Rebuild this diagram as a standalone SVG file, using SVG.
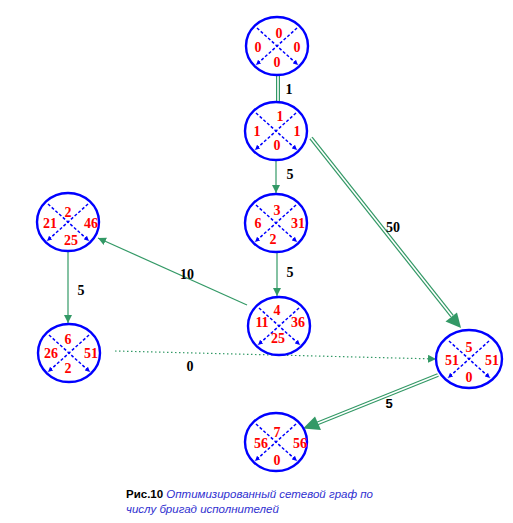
<svg xmlns="http://www.w3.org/2000/svg" xmlns:xlink="http://www.w3.org/1999/xlink" width="513" height="523" viewBox="0 0 513 523">
<style>
.c{fill:#fff;stroke:#0000ff;stroke-width:2.4}
.x{stroke:#0000ff;stroke-width:1.5;stroke-dasharray:3 2;fill:none}
.n{font-family:"Liberation Serif",serif;font-weight:bold;font-size:14px;fill:#ff0000;text-anchor:middle}
.l{font-family:"Liberation Serif",serif;font-weight:bold;font-size:14px;fill:#000;text-anchor:middle}
.s{stroke:#339966;stroke-width:1.2;fill:none}
.dbo{stroke:#339966;stroke-width:4;fill:none}
.dbi{stroke:#fff;stroke-width:1.6;fill:none}
.cap{font-family:"Liberation Sans",sans-serif;font-size:11.5px}
</style>
<defs>
<marker id="ah" viewBox="0 0 10 10" refX="10" refY="5" markerWidth="8" markerHeight="8" markerUnits="userSpaceOnUse" orient="auto"><path d="M0,0L10,5L0,10z" fill="#339966"/></marker>
<marker id="xa" viewBox="0 0 10 10" refX="10" refY="5" markerWidth="5" markerHeight="5" markerUnits="userSpaceOnUse" orient="auto"><path d="M0,0L10,5L0,10z" fill="#0000ff"/></marker>
<g id="nd">
<ellipse class="c" cx="0" cy="0" rx="31" ry="29"/>
<line class="x" x1="-20" y1="-18" x2="21" y2="19" marker-end="url(#xa)"/>
<line class="x" x1="20" y1="-18" x2="-21" y2="19" marker-end="url(#xa)"/>
</g>
</defs>
<g id="connectors">
<line class="dbo" x1="278" y1="75" x2="278" y2="102"/>
<line class="dbi" x1="278" y1="75" x2="278" y2="102"/>
<line class="s" x1="276" y1="160" x2="276" y2="193" marker-end="url(#ah)"/>
<line class="s" x1="277" y1="252" x2="277" y2="296" marker-end="url(#ah)"/>
<line class="s" x1="247" y1="305" x2="98" y2="238" marker-end="url(#ah)"/>
<line class="s" x1="68" y1="251" x2="68" y2="323" marker-end="url(#ah)"/>
<line class="s" x1="115" y1="351" x2="436" y2="359" stroke-dasharray="1.5 2.5" marker-end="url(#ah)"/>
<line class="dbo" x1="311" y1="138" x2="452" y2="316"/>
<line class="dbi" x1="311" y1="138" x2="452" y2="316"/>
<path d="M461,328L445.5,321.5L457,312.5z" fill="#339966"/>
<line class="dbo" x1="438" y1="375" x2="316" y2="424"/>
<line class="dbi" x1="438" y1="375" x2="316" y2="424"/>
<path d="M303,428.5L315,416.5L321,430z" fill="#339966"/>
<text class="l" x="289" y="94">1</text>
<text class="l" x="290" y="179">5</text>
<text class="l" x="290" y="277">5</text>
<text class="l" x="187" y="279">10</text>
<text class="l" x="81" y="295">5</text>
<text class="l" x="393" y="232">50</text>
<text class="l" x="190" y="371">0</text>
<text class="l" x="389" y="408" style="font-family:'Liberation Sans',sans-serif;font-size:13px">5</text>
</g>
<g id="node0"><use xlink:href="#nd" x="277" y="46"/>
<text class="n" x="279" y="38">0</text><text class="n" x="258" y="52">0</text><text class="n" x="297" y="52">0</text><text class="n" x="277" y="67">0</text></g>
<g id="node1"><use xlink:href="#nd" x="276" y="131"/>
<text class="n" x="280" y="121">1</text><text class="n" x="257" y="136">1</text><text class="n" x="297" y="136">1</text><text class="n" x="277" y="150">0</text></g>
<g id="node2"><use xlink:href="#nd" x="68" y="222"/>
<text class="n" x="68" y="217">2</text><text class="n" x="50" y="228">21</text><text class="n" x="91" y="228">46</text><text class="n" x="71" y="245">25</text></g>
<g id="node3"><use xlink:href="#nd" x="276" y="223"/>
<text class="n" x="277" y="215">3</text><text class="n" x="258" y="228">6</text><text class="n" x="298" y="228">31</text><text class="n" x="273" y="244">2</text></g>
<g id="node4"><use xlink:href="#nd" x="279" y="326"/>
<text class="n" x="277" y="315">4</text><text class="n" x="262" y="327">11</text><text class="n" x="298" y="327">36</text><text class="n" x="278" y="343">25</text></g>
<g id="node6"><use xlink:href="#nd" x="69" y="353"/>
<text class="n" x="68" y="344">6</text><text class="n" x="51" y="358">26</text><text class="n" x="91" y="358">51</text><text class="n" x="68" y="373">2</text></g>
<g id="node5"><ellipse class="c" cx="469" cy="359" rx="33" ry="29"/>
<line class="x" x1="449" y1="341" x2="490" y2="378" marker-end="url(#xa)"/>
<line class="x" x1="489" y1="341" x2="448" y2="378" marker-end="url(#xa)"/>
<text class="n" x="469" y="352">5</text><text class="n" x="452" y="365">51</text><text class="n" x="492" y="365">51</text><text class="n" x="469" y="382">0</text></g>
<g id="node7"><use xlink:href="#nd" x="276" y="442"/>
<text class="n" x="277" y="437">7</text><text class="n" x="261" y="448">56</text><text class="n" x="300" y="448">56</text><text class="n" x="277" y="465">0</text></g>
<g id="caption">
<text class="cap" x="126" y="498"><tspan font-weight="bold" fill="#000">Рис.10</tspan><tspan fill="#3030d0" font-style="italic"> Оптимизированный сетевой граф по</tspan></text>
<text class="cap" x="126" y="513" fill="#3030d0" font-style="italic">числу  бригад исполнителей</text>
</g>
</svg>
